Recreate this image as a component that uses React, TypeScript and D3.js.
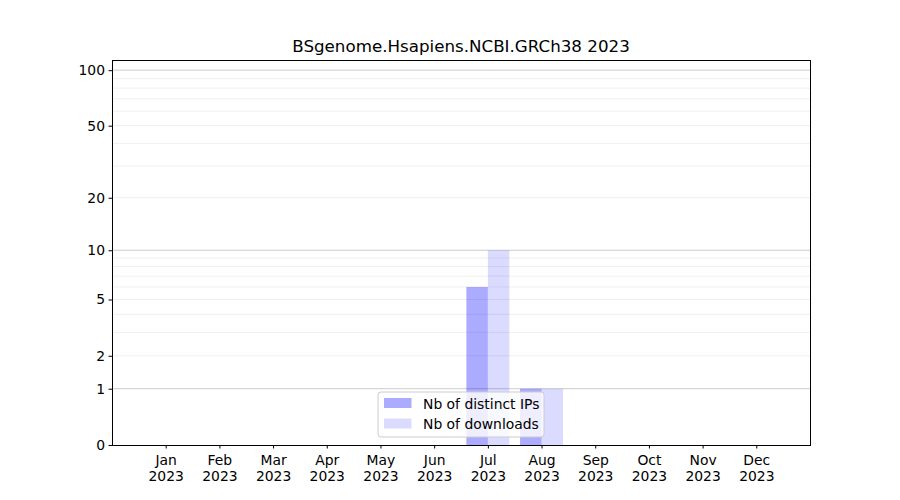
import React, { useEffect, useRef } from 'react';
import * as d3 from 'd3';

const title = 'BSgenome.Hsapiens.NCBI.GRCh38 2023';
const months = ['Jan', 'Feb', 'Mar', 'Apr', 'May', 'Jun', 'Jul', 'Aug', 'Sep', 'Oct', 'Nov', 'Dec'];
const year = '2023';
const distinctIPs = [0, 0, 0, 0, 0, 0, 6, 1, 0, 0, 0, 0];
const downloads = [0, 0, 0, 0, 0, 0, 10, 1, 0, 0, 0, 0];
const yTicks = [0, 1, 2, 5, 10, 20, 50, 100];
const majorGrid = [1, 10, 100];
const minorGrid = [2, 3, 4, 5, 6, 7, 8, 9, 20, 30, 40, 50, 60, 70, 80, 90];
const legendLabels = ['Nb of distinct IPs', 'Nb of downloads'];

const App: React.FC = () => {
  const svgRef = useRef<SVGSVGElement>(null);

  useEffect(() => {
    if (!svgRef.current) return;
    const root = d3.select(svgRef.current);
    root.selectAll('*').remove();

    const margin = { top: 60, right: 90, bottom: 55, left: 112 };
    const W = 900;
    const H = 500;
    const width = W - margin.left - margin.right;
    const height = H - margin.top - margin.bottom;
    const font = 'DejaVu Sans, sans-serif';

    root.attr('width', W).attr('height', H);
    root.append('rect').attr('width', W).attr('height', H).attr('fill', '#fff');

    const g = root.append('g').attr('transform', `translate(${margin.left},${margin.top})`);

    const x = d3.scaleLinear().domain([0, 13]).range([0, width]);
    const y = d3.scaleSymlog().constant(1).domain([0, 113.5]).range([height, 0]);
    const barW = x(0.4) - x(0);

    // grid
    g.selectAll('.minor')
      .data(minorGrid)
      .enter()
      .append('line')
      .attr('x1', 0)
      .attr('x2', width)
      .attr('y1', (d) => y(d))
      .attr('y2', (d) => y(d))
      .attr('stroke', '#ebebeb')
      .attr('stroke-width', 0.8);
    g.selectAll('.major')
      .data(majorGrid)
      .enter()
      .append('line')
      .attr('x1', 0)
      .attr('x2', width)
      .attr('y1', (d) => y(d))
      .attr('y2', (d) => y(d))
      .attr('stroke', '#cccccc')
      .attr('stroke-width', 1);

    // bars
    g.selectAll('.ips')
      .data(distinctIPs)
      .enter()
      .append('rect')
      .attr('x', (_d, i) => x(i + 1) - barW)
      .attr('y', (d) => y(d))
      .attr('width', barW)
      .attr('height', (d) => height - y(d))
      .attr('fill', 'rgba(0,0,255,0.33)');
    g.selectAll('.dl')
      .data(downloads)
      .enter()
      .append('rect')
      .attr('x', (_d, i) => x(i + 1))
      .attr('y', (d) => y(d))
      .attr('width', barW)
      .attr('height', (d) => height - y(d))
      .attr('fill', 'rgba(0,0,255,0.14)');

    // axes
    const xAxis = g
      .append('g')
      .attr('transform', `translate(0,${height})`)
      .call(
        d3
          .axisBottom(x)
          .tickValues(months.map((_m, i) => i + 1))
          .tickSize(3.5)
          .tickPadding(3.5)
          .tickFormat(() => '')
      );
    xAxis.select('.domain').remove();
    xAxis.selectAll('.tick line').attr('stroke', '#000').attr('stroke-width', 1);
    xAxis
      .selectAll('.tick text')
      .attr('font-family', font)
      .attr('font-size', 13.9)
      .attr('fill', '#000')
      .each(function (_d, i) {
        const t = d3.select(this).attr('dy', null).attr('y', 0);
        t.append('tspan').attr('x', 0).attr('y', 20).text(months[i]);
        t.append('tspan').attr('x', 0).attr('y', 36).text(year);
      });

    const yAxis = g.append('g').call(
      d3
        .axisLeft(y)
        .tickValues(yTicks)
        .tickSize(3.5)
        .tickPadding(3.5)
        .tickFormat((d) => String(d))
    );
    yAxis.select('.domain').remove();
    yAxis.selectAll('.tick line').attr('stroke', '#000').attr('stroke-width', 1);
    yAxis
      .selectAll('.tick text')
      .attr('font-family', font)
      .attr('font-size', 13.9)
      .attr('fill', '#000');

    // frame
    g.append('rect')
      .attr('x', 0.5)
      .attr('y', 0.5)
      .attr('width', width)
      .attr('height', height)
      .attr('fill', 'none')
      .attr('stroke', '#000')
      .attr('stroke-width', 1)
      .attr('shape-rendering', 'crispEdges');

    // title
    g.append('text')
      .attr('x', width / 2)
      .attr('y', -8)
      .attr('text-anchor', 'middle')
      .attr('font-family', font)
      .attr('font-size', 16.7)
      .attr('fill', '#000')
      .text(title);

    // legend
    const lg = g.append('g').attr('transform', `translate(${378 - margin.left},${392 - margin.top})`);
    lg.append('rect')
      .attr('width', 166)
      .attr('height', 45)
      .attr('rx', 3)
      .attr('fill', 'rgba(255,255,255,0.8)')
      .attr('stroke', '#cccccc')
      .attr('stroke-width', 1);
    const colors = ['rgba(0,0,255,0.33)', 'rgba(0,0,255,0.14)'];
    legendLabels.forEach((label, i) => {
      lg.append('rect')
        .attr('x', 6)
        .attr('y', 6 + i * 20.5)
        .attr('width', 27.5)
        .attr('height', 10)
        .attr('fill', colors[i]);
      lg.append('text')
        .attr('x', 45)
        .attr('y', 16.5 + i * 20.5)
        .attr('font-family', font)
        .attr('font-size', 13.9)
        .attr('fill', '#000')
        .text(label);
    });
  }, []);

  return (
    <div style={{ margin: -8 }}>
      <svg ref={svgRef}></svg>
    </div>
  );
};

export default App;
